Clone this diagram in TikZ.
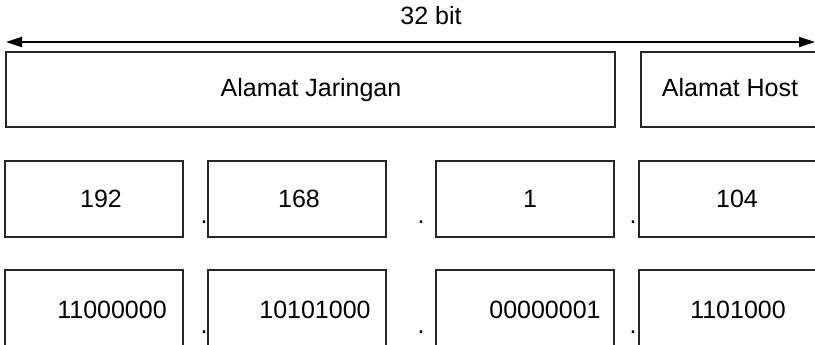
\documentclass[tikz,border=0pt]{standalone}
\usepackage{fontspec}
\setmainfont{Liberation Sans}
\usetikzlibrary{arrows.meta}
\begin{document}
\begin{tikzpicture}[x=1pt,y=-1pt,
  box/.style={draw=black!85,line width=1.2pt,rectangle,inner sep=0pt,outer sep=0pt},
  lbl/.style={font=\fontsize{25}{30}\selectfont,inner sep=0pt,anchor=base},
  dim/.style={line width=2pt,{Triangle[length=16pt,width=10pt]}-{Triangle[length=16pt,width=10pt]}}]
\useasboundingbox (0,0) rectangle (815,345);
\clip (0,0) rectangle (815,345);
% dimension arrow
\coordinate (L) at (6,42);
\coordinate (R) at (815,42);
\draw[dim] (L) -- (R);
\node[lbl] (bits) at (431,25) {32 bit};
% top row
\node[box,minimum width=609pt,minimum height=75pt] (net) at (310.5,89.5) {};
\node[box,minimum width=189pt,minimum height=75pt] (host) at (735.5,89.5) {};
\node[lbl] (netT) at (311,97) {Alamat Jaringan};
\node[lbl] (hostT) at (730,97) {Alamat Host};
% decimal row
\node[box,minimum width=178pt,minimum height=76pt] (d1) at (94,199) {};
\node[box,minimum width=178pt,minimum height=76pt] (d2) at (297,199) {};
\node[box,minimum width=178pt,minimum height=76pt] (d3) at (525,199) {};
\node[box,minimum width=191pt,minimum height=76pt] (d4) at (734.5,199) {};
\node[lbl] (d1T) at (101,207) {192};
\node[lbl] (d2T) at (299,207) {168};
\node[lbl] (d3T) at (530,207) {1};
\node[lbl] (d4T) at (737,207) {104};
\node[lbl] (p1) at (204,223) {.};
\node[lbl] (p2) at (421,223) {.};
\node[lbl] (p3) at (633,223) {.};
% binary row
\node[box,minimum width=178pt,minimum height=90pt] (b1) at (94,315) {};
\node[box,minimum width=178pt,minimum height=90pt] (b2) at (297,315) {};
\node[box,minimum width=178pt,minimum height=90pt] (b3) at (525,315) {};
\node[box,minimum width=191pt,minimum height=90pt] (b4) at (734.5,315) {};
\node[lbl] (b1T) at (112,318) {11000000};
\node[lbl] (b2T) at (315,318) {10101000};
\node[lbl] (b3T) at (545,318) {00000001};
\node[lbl] (b4T) at (738,318) {1101000};
\node[lbl] (q1) at (204,333) {.};
\node[lbl] (q2) at (421,333) {.};
\node[lbl] (q3) at (633,333) {.};
\end{tikzpicture}
\end{document}
